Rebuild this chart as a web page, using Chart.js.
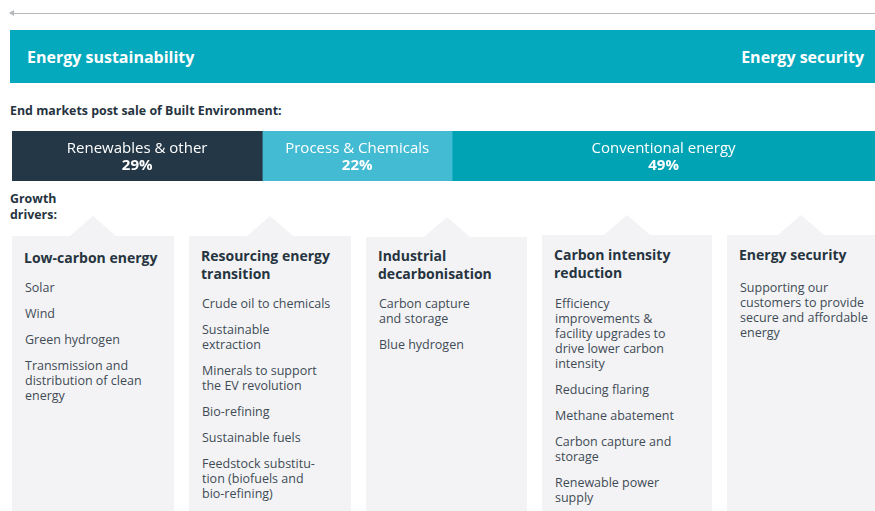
<!DOCTYPE html>
<html>
<head>
<meta charset="utf-8">
<script src="https://cdn.jsdelivr.net/npm/chart.js@4"></script>
<style>
  html, body { margin: 0; padding: 0; width: 875px; height: 511px; overflow: hidden; background: #fff; font-family: "Open Sans", sans-serif; color: #26343f; }
  .abs { position: absolute; }
  #arrow { left: 10px; top: 13px; width: 865px; height: 1px; background: #b4b8bd; }
  #arrow:before { content: ""; position: absolute; left: -1px; top: -3px; border-right: 5px solid #b4b8bd; border-top: 3.5px solid transparent; border-bottom: 3.5px solid transparent; }
  #banner { left: 10px; top: 30px; width: 865px; height: 53px; background: #05a9bd; color: #fff; font-weight: 700; font-size: 16px; }
  #banner span { position: absolute; top: 16px; }
  .lbl { font-weight: 700; font-size: 12.4px; color: #26343f; line-height: 16px; }
  #barWrap { left: 12px; top: 131px; width: 863px; height: 50px; }
  .card { background: #f3f3f5; padding: 0 6px 0 12px; box-sizing: border-box; }
  .card:before { content: ""; position: absolute; top: -20px; left: 50%; margin-left: -23px; border-left: 23px solid transparent; border-right: 23px solid transparent; border-bottom: 20px solid #f3f3f5; }
  .card h3 { margin: 0; font-size: 14px; line-height: 18px; font-weight: 700; color: #26343f; }
  .card ul { list-style: none; margin: 0; padding: 0 0 0 1px; font-size: 12.5px; line-height: 15px; color: #3f4b56; }
  .card li { margin-top: 11px; white-space: pre; }
</style>
</head>
<body>
<div id="arrow" class="abs"></div>
<div id="banner" class="abs"><span style="left:17px">Energy sustainability</span><span style="right:11px">Energy security</span></div>
<div class="abs lbl" style="left:10px; top:103px">End markets post sale of Built Environment:</div>
<div id="barWrap" class="abs"><canvas id="marketChart"></canvas></div>
<div class="abs lbl" style="left:10px; top:191px">Growth<br>drivers:</div>
<div id="cards"></div>

<script>
// end markets split (%)
const markets = ['Renewables & other', 'Process & Chemicals', 'Conventional energy'];
const shares = [29, 22, 49];
const marketColors = ['#243746', '#43bcd3', '#00a3b4'];

// growth driver columns
const driverTitles = ['Low-carbon energy', 'Resourcing energy\ntransition', 'Industrial\ndecarbonisation', 'Carbon intensity\nreduction', 'Energy security'];
const driverItems = [
  ['Solar', 'Wind', 'Green hydrogen', 'Transmission and\ndistribution of clean\nenergy'],
  ['Crude oil to chemicals', 'Sustainable\nextraction', 'Minerals to support\nthe EV revolution', 'Bio-refining', 'Sustainable fuels', 'Feedstock substitu-\ntion (biofuels and\nbio-refining)'],
  ['Carbon capture\nand storage', 'Blue hydrogen'],
  ['Efficiency\nimprovements &\nfacility upgrades to\ndrive lower carbon\nintensity', 'Reducing flaring', 'Methane abatement', 'Carbon capture and\nstorage', 'Renewable power\nsupply'],
  ['Supporting our\ncustomers to provide\nsecure and affordable\nenergy']
];

// card boxes: left, width, top, title offset, list offset
const cardBoxes = [[12, 162, 236, 13, 2], [189, 162, 236, 11, 2], [366, 161, 237, 10, 2], [542, 170, 235, 11, 3], [727, 148, 235, 11, 5]];
const cardHtml = driverTitles.map(function (t, i) {
  const b = cardBoxes[i];
  const items = driverItems[i].map(function (s) { return '<li>' + s.replace(/&/g, '&amp;') + '</li>'; }).join('');
  return '<div class="abs card" style="left:' + b[0] + 'px;top:' + b[2] + 'px;width:' + b[1] + 'px;height:' + (511 - b[2]) + 'px;padding-top:' + b[3] + 'px"><h3>' + t.replace('\n', '<br>') + '</h3><ul style="padding-top:' + b[4] + 'px">' + items + '</ul></div>';
});
document.getElementById('cards').innerHTML = cardHtml.join('');

const segLabels = {
  id: 'segLabels',
  afterDatasetsDraw(chart) {
    const ctx = chart.ctx;
    chart.data.datasets.forEach(function (ds, i) {
      const bar = chart.getDatasetMeta(i).data[0];
      const cx = (bar.x + bar.base) / 2;
      ctx.save();
      ctx.fillStyle = '#fff';
      ctx.textAlign = 'center';
      ctx.textBaseline = 'middle';
      ctx.font = '400 15px "Open Sans"';
      ctx.fillText(ds.label, cx, bar.y - 7);
      ctx.font = '700 15px "Open Sans"';
      ctx.fillText(ds.data[0] + '%', cx, bar.y + 10);
      ctx.restore();
    });
  }
};

new Chart(document.getElementById('marketChart').getContext('2d'), {
  type: 'bar',
  data: {
    labels: ['End markets'],
    datasets: markets.map(function (m, i) {
      return { label: m, data: [shares[i]], backgroundColor: marketColors[i], borderWidth: 0, barPercentage: 1, categoryPercentage: 1 };
    })
  },
  options: {
    indexAxis: 'y',
    responsive: true,
    maintainAspectRatio: false,
    animation: false,
    layout: { padding: 0 },
    plugins: { legend: { display: false }, tooltip: { enabled: false } },
    scales: {
      x: { stacked: true, min: 0, max: 100, display: false },
      y: { stacked: true, display: false }
    }
  },
  plugins: [segLabels]
});
</script>
</body>
</html>
